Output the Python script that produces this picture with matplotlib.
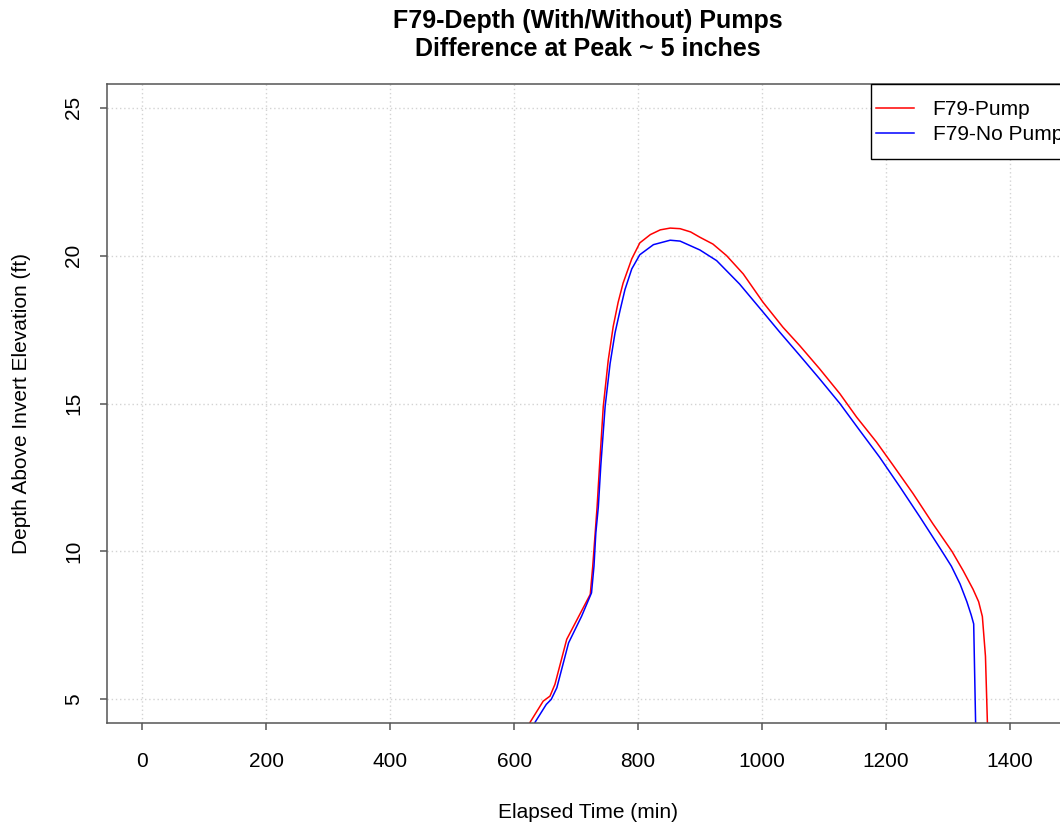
import numpy as np
import matplotlib
matplotlib.use("Agg")
import matplotlib.pyplot as plt
from matplotlib.patches import Rectangle

plt.rcParams['font.family'] = ['Liberation Sans', 'DejaVu Sans']

# depth (ft) vs elapsed time (min)
t_pump = [0, 600, 626, 647, 658, 666, 685, 706, 723, 727, 731, 734, 738, 744,
          752, 760, 768, 776, 790, 803, 820, 836, 852, 868, 885, 900, 921, 943,
          970, 1002, 1034, 1061, 1093, 1126, 1153, 1185, 1212, 1244, 1276,
          1307, 1325, 1341, 1350, 1356, 1361, 1370, 1440]
d_pump = [0, 2.6, 4.23, 4.94, 5.11, 5.51, 7.03, 7.87, 8.55, 9.5, 10.64, 11.5,
          12.9, 14.9, 16.46, 17.6, 18.42, 19.07, 19.89, 20.43, 20.71, 20.87,
          20.93, 20.91, 20.8, 20.62, 20.39, 20.0, 19.38, 18.42, 17.58, 16.96,
          16.18, 15.33, 14.54, 13.7, 12.91, 11.96, 10.94, 10.0, 9.35, 8.72,
          8.3, 7.8, 6.46, 0, 0]

t_nopump = [0, 610, 634, 652, 660, 669, 688, 709, 725, 729, 732, 736, 740, 747,
            755, 763, 771, 779, 790, 803, 825, 852, 868, 900, 927, 964, 1002,
            1029, 1061, 1093, 1126, 1158, 1190, 1223, 1255, 1291, 1306, 1320,
            1331, 1338, 1342, 1349, 1440]
d_nopump = [0, 2.6, 4.23, 4.83, 5.0, 5.39, 6.91, 7.81, 8.6, 9.5, 10.63, 11.5,
            12.9, 14.9, 16.35, 17.39, 18.14, 18.85, 19.55, 20.03, 20.37, 20.52,
            20.49, 20.19, 19.83, 19.04, 18.09, 17.41, 16.63, 15.84, 15.0,
            14.09, 13.19, 12.18, 11.17, 10.0, 9.5, 8.9, 8.3, 7.85, 7.55, 0, 0]

x_ticks = [0, 200, 400, 600, 800, 1000, 1200, 1400]
y_ticks = [5, 10, 15, 20, 25]

fs = 15
axcol = '#555555'

fig = plt.figure(figsize=(10.6, 8.22), dpi=100)
ax = fig.add_axes([0.1007, 0.1204, 0.9088, 0.7774])

ax.set_xlim(-57.6, 1497.6)
ax.set_ylim(4.2, 25.8)
ax.set_xticks(x_ticks)
ax.set_yticks(y_ticks)
ax.grid(True, color='#d3d3d3', linestyle=(0, (1, 2)), linewidth=1.0)
ax.set_axisbelow(True)

ax.plot(t_pump, d_pump, color='red', linewidth=1.1, label='F79-Pump')
ax.plot(t_nopump, d_nopump, color='blue', linewidth=1.1, label='F79-No Pump')

for s in ax.spines.values():
    s.set_color(axcol)
    s.set_linewidth(1.1)
ax.tick_params(axis='both', direction='out', length=5, width=1.1, color=axcol,
               labelsize=fs, labelcolor='black')
ax.tick_params(axis='x', pad=16)
ax.tick_params(axis='y', pad=12, labelrotation=90)
for lab in ax.get_yticklabels():
    lab.set_va('center')

ax.set_xlabel('Elapsed Time (min)', fontsize=fs)
ax.xaxis.set_label_coords(0.5, -0.125)
ax.set_ylabel('Depth Above Invert Elevation (ft)', fontsize=fs)
ax.yaxis.set_label_coords(-0.079, 0.5)

fig.text(0.5547, 1 - 28 / 822, 'F79-Depth (With/Without) Pumps', ha='center',
         va='baseline', fontsize=18, fontweight='bold')
fig.text(0.5547, 1 - 56 / 822, 'Difference at Peak ~ 5 inches', ha='center',
         va='baseline', fontsize=18, fontweight='bold')

# legend box (R style, square corners, flush with the top of the plot);
# like the original, it runs past the right edge of the picture
ax.add_patch(Rectangle((0.7931, 0.8828), 0.4, 0.1172, transform=ax.transAxes,
                       facecolor='white', edgecolor='black', linewidth=1.0,
                       clip_on=False, zorder=4))
leg = ax.legend(loc='upper left', bbox_to_anchor=(0.7983, 0.9742),
                frameon=False, fontsize=fs, borderpad=0, borderaxespad=0,
                handlelength=1.83, handletextpad=0.9, labelspacing=0.28)
leg.set_zorder(5)

fig.savefig('out.png', dpi=100)
